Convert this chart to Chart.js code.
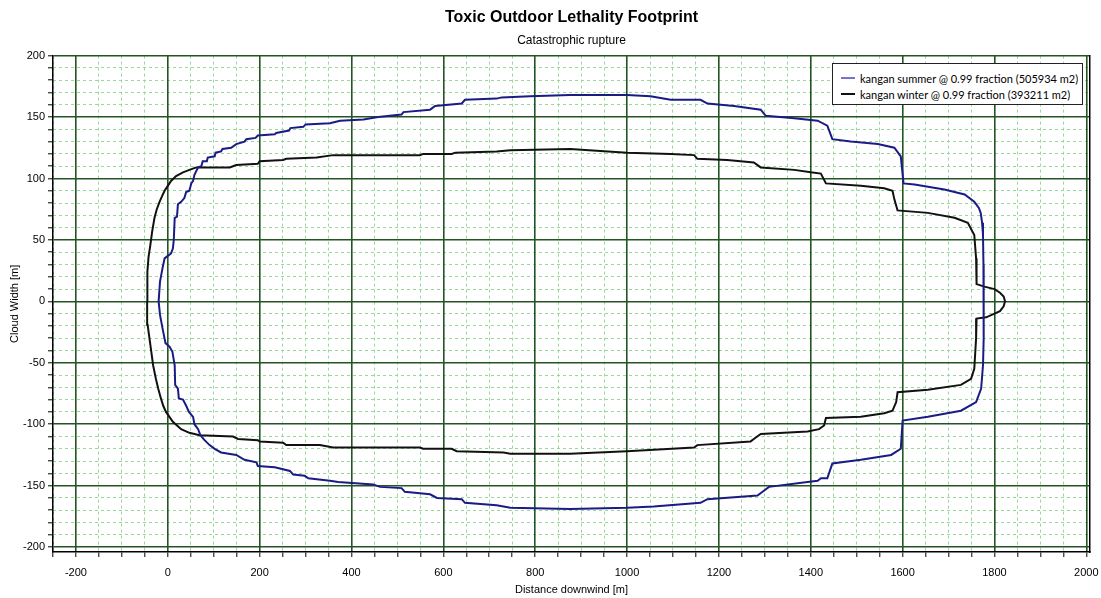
<!DOCTYPE html>
<html lang="en">
<head>
  <meta charset="UTF-8">
  <title>Toxic Outdoor Lethality Footprint</title>
  <!-- Chart.js CDN -->
  <script src="https://cdn.jsdelivr.net/npm/chart.js"></script>
  <style>
    body { margin: 0; background: #fff; font-family: Lato, "Open Sans", sans-serif; }
    #wrap { position: relative; width: 1101px; height: 598px; }
    #legendBox {
      position: absolute; left: 832px; top: 63px; width: 251px; height: 42px;
      background: #fff; border: 1px solid #222; box-sizing: border-box;
      font-size: 11px; color: #000; padding: 6px 0 0 8px;
    }
    .legend-row { display: flex; align-items: center; height: 16px; white-space: nowrap; }
    .legend-line { width: 14px; height: 2px; margin-right: 5px; }
  </style>
</head>
<body>
  <div id="wrap">
    <canvas id="footprintChart" width="1101" height="598"></canvas>
    <div id="legendBox"></div>
  </div>

  <script>
    // Series labels and colours
    const seriesLabels = [
      'kangan summer @ 0.99 fraction (505934 m2)',
      'kangan winter @ 0.99 fraction (393211 m2)'
    ];
    const seriesColors = ['#1b1b86', '#111111'];
    const legendColors = ['#7474cc', '#111111'];

    // Summer footprint outline [distance m, width m], walked round the contour
    const summerOutline = [
      [-20, 0], [-17, 16], [-11, 28], [-7, 35], [0, 37], [7, 39], [11, 43], [13, 50],
      [15, 68], [20, 69], [22, 79], [29, 81], [36, 84], [40, 89], [47, 90], [51, 96],
      [55, 98], [58, 103], [66, 109], [73, 110], [76, 114], [85, 114], [87, 117],
      [102, 118], [104, 121], [116, 122], [119, 124], [138, 125], [149, 128], [167, 130],
      [171, 132], [191, 133], [196, 135], [233, 136], [236, 137], [264, 139], [267, 141],
      [295, 142], [300, 144], [353, 145], [375, 147], [426, 148], [458, 150], [509, 152],
      [513, 154], [571, 156], [582, 159], [640, 161], [647, 164], [716, 165], [727, 166],
      [789, 167], [876, 168], [1000, 168], [1051, 167], [1095, 164], [1160, 164],
      [1175, 161], [1233, 159], [1291, 156], [1302, 151], [1364, 149], [1415, 147],
      [1436, 143], [1447, 132], [1487, 130], [1546, 128], [1582, 125], [1596, 118],
      [1602, 96], [1626, 95], [1691, 91], [1735, 87], [1756, 81], [1766, 76], [1770, 72],
      [1773, 64], [1775, 54], [1776, 30], [1777, 0],
      [1776, -30], [1775, -52], [1771, -71], [1760, -82], [1727, -89], [1655, -94],
      [1600, -97], [1596, -120], [1575, -125], [1509, -129], [1447, -132], [1436, -144],
      [1422, -144], [1415, -146], [1393, -147], [1309, -151], [1295, -155], [1284, -158],
      [1175, -161], [1160, -164], [1058, -167], [1000, -168], [876, -169], [746, -168],
      [716, -166], [647, -164], [640, -161], [586, -160], [571, -157], [516, -155],
      [509, -152], [462, -151], [447, -149], [371, -147], [353, -146], [306, -144],
      [298, -142], [273, -141], [266, -138], [233, -135], [196, -134], [193, -131],
      [167, -129], [149, -125], [116, -123], [102, -120], [91, -117], [80, -113],
      [71, -109], [66, -104], [58, -100], [55, -94], [46, -90], [40, -85], [33, -80],
      [24, -79], [22, -71], [16, -68], [15, -52], [10, -41], [4, -37], [-5, -34],
      [-11, -23], [-17, -11], [-20, 0]
    ];

    // Winter footprint outline [distance m, width m]
    const winterOutline = [
      [-45, 0], [-45, 12], [-44, 24], [-42, 36], [-38, 46], [-34, 57], [-29, 68],
      [-24, 75], [-18, 81], [-12, 86], [-7, 90], [0, 94], [7, 98], [18, 102], [33, 105],
      [47, 107], [62, 109], [135, 109], [149, 111], [196, 112], [200, 114], [251, 115],
      [258, 116], [324, 117], [360, 119], [426, 119], [549, 119], [556, 120], [618, 120],
      [626, 121], [716, 122], [746, 123], [876, 124], [1000, 121], [1095, 120],
      [1146, 119], [1153, 116], [1218, 115], [1276, 113], [1291, 109], [1364, 107],
      [1400, 105], [1422, 104], [1433, 96], [1509, 94], [1560, 92], [1578, 90],
      [1582, 83], [1589, 74], [1655, 72], [1713, 68], [1742, 64], [1756, 54], [1760, 35],
      [1761, 14], [1778, 12], [1800, 10], [1812, 7], [1820, 4], [1823, 0],
      [1820, -4], [1812, -8], [1800, -10], [1782, -13], [1761, -14], [1760, -30],
      [1756, -55], [1749, -63], [1727, -68], [1655, -72], [1589, -74], [1586, -82],
      [1578, -89], [1560, -91], [1509, -94], [1433, -95], [1429, -101], [1418, -104],
      [1393, -106], [1291, -108], [1276, -112], [1269, -114], [1153, -117], [1146, -119],
      [1000, -122], [876, -124], [746, -124], [731, -123], [629, -122], [618, -120],
      [556, -120], [549, -119], [360, -119], [331, -117], [258, -117], [251, -115],
      [200, -114], [196, -113], [153, -112], [142, -110], [69, -109], [47, -107],
      [29, -104], [11, -98], [-4, -90], [-10, -85], [-15, -79], [-21, -71], [-26, -63],
      [-32, -52], [-36, -41], [-40, -30], [-44, -19], [-45, -9], [-45, 0]
    ];

    // Axis ranges and steps
    const xRange = [-250, 2008];
    const yRange = [-204, 200];
    const xMajor = 200, xMinor = 50;
    const yMajor = 50, yMinor = 10;

    const majorColor = '#235523';
    const minorColor = '#9ad89a';

    const toPoints = (outline) => outline.map(([x, y]) => ({ x, y }));

    // Major axes: labels, ticks and solid grid
    const majorAxis = (range, step, minor, title, position, pad, titlePad, size) => ({
      type: 'linear',
      position: position,
      min: range[0],
      max: range[1],
      ticks: {
        stepSize: minor,
        includeBounds: false,
        autoSkip: false,
        maxRotation: 0,
        padding: pad,
        color: '#000',
        font: { size: 11 },
        callback: (v) => (v % step === 0 ? v : '')
      },
      grid: {
        color: (ctx) => {
          const v = ctx.tick ? ctx.tick.value : null;
          return v !== null && v % step === 0 ? majorColor : 'rgba(0,0,0,0)';
        },
        lineWidth: 1.6,
        tickColor: '#000',
        tickLength: 5,
        tickWidth: 1
      },
      border: { display: true, color: '#000', width: 1.5 },
      title: { display: true, text: title, color: '#000', font: { size: 11 }, padding: titlePad },
      // fixed axis box so the plot area lands where the original one is
      afterFit: (scale) => {
        if (position === 'left') scale.width = size; else scale.height = size;
        scale.paddingLeft = 0;
        scale.paddingRight = 0;
        scale.paddingTop = 0;
        scale.paddingBottom = 0;
      }
    });

    // Minor axes: dashed light grid only
    const minorAxis = (range, step, minor, position) => ({
      type: 'linear',
      position: position,
      min: range[0],
      max: range[1],
      ticks: { display: false, stepSize: minor, autoSkip: false, includeBounds: false },
      grid: {
        drawTicks: false,
        lineWidth: 1,
        color: (ctx) => {
          const v = ctx.tick ? ctx.tick.value : null;
          if (v === null || v % step === 0) return 'rgba(0,0,0,0)';
          return minorColor;
        }
      },
      border: { display: false, dash: [3, 3] },
      afterFit: (scale) => {
        if (position === 'left') scale.width = 0; else scale.height = 0;
      }
    });

    const ctx = document.getElementById('footprintChart').getContext('2d');
    const chart = new Chart(ctx, {
      type: 'scatter',
      data: {
        datasets: [
          {
            label: seriesLabels[0],
            data: toPoints(summerOutline),
            showLine: true,
            borderColor: seriesColors[0],
            borderWidth: 2,
            pointRadius: 0,
            tension: 0,
            fill: false
          },
          {
            label: seriesLabels[1],
            data: toPoints(winterOutline),
            showLine: true,
            borderColor: seriesColors[1],
            borderWidth: 2,
            pointRadius: 0,
            tension: 0,
            fill: false
          }
        ]
      },
      options: {
        responsive: false,
        animation: false,
        devicePixelRatio: 1,
        layout: { padding: { left: 6, right: 11, top: 0, bottom: 0 } },
        plugins: {
          legend: { display: false },
          tooltip: { enabled: false },
          title: {
            display: true,
            fullSize: false,
            text: 'Toxic Outdoor Lethality Footprint',
            color: '#000',
            font: { size: 16, weight: 'bold' },
            padding: { top: 8, bottom: 6 }
          },
          subtitle: {
            display: true,
            fullSize: false,
            text: 'Catastrophic rupture',
            color: '#000',
            font: { size: 12 },
            padding: { top: 0, bottom: 8 }
          }
        },
        scales: {
          xm: minorAxis(xRange, xMajor, xMinor, 'bottom'),
          ym: minorAxis(yRange, yMajor, yMinor, 'left'),
          x: majorAxis(xRange, xMajor, xMinor, 'Distance downwind [m]', 'bottom', 9, { top: 2, bottom: 1 }, 46),
          y: majorAxis(yRange, yMajor, yMinor, 'Cloud Width [m]', 'left', 3, { top: 2, bottom: 0 }, 47),
          // right-hand frame line of the plot
          yr: {
            type: 'linear',
            position: 'right',
            min: yRange[0],
            max: yRange[1],
            ticks: { display: false },
            grid: { display: false, drawTicks: false },
            border: { display: true, color: '#000', width: 1.5 },
            afterFit: (scale) => { scale.width = 0; }
          }
        }
      }
    });

    // Legend box inside the plot, top right
    const legendBox = document.getElementById('legendBox');
    seriesLabels.forEach((label, i) => {
      legendBox.innerHTML += `
        <div class="legend-row">
          <span class="legend-line" style="background:${legendColors[i]}"></span>
          <span>${label}</span>
        </div>`;
    });
  </script>
</body>
</html>
